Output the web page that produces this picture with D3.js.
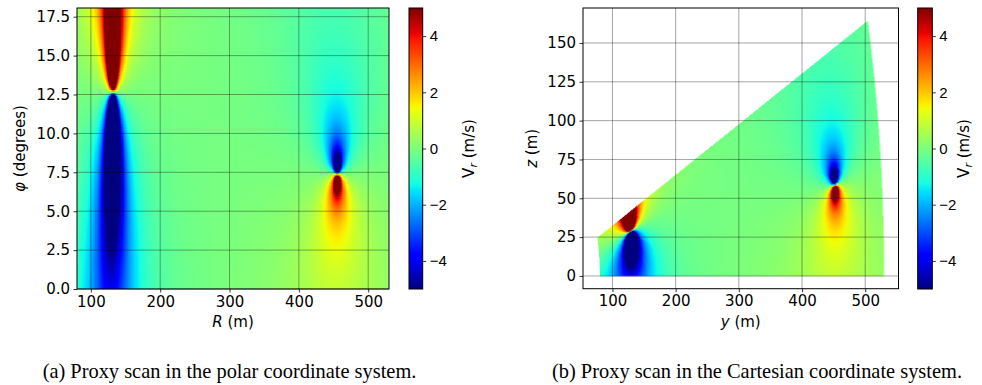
<!DOCTYPE html>
<html>
<head>
<meta charset="utf-8">
<script src="https://cdn.jsdelivr.net/npm/d3@7"></script>
<style>
  body { margin: 0; background: #fff; }
  svg { display: block; font-family: "DejaVu Sans", sans-serif; }
  .caption { font-family: "Liberation Serif", "Times New Roman", serif; }
</style>
</head>
<body>
<svg id="fig" width="982" height="385"></svg>
<script>
// scan geometry
const rangeLimits = [80, 530];      // R (m)
const elevLimits = [0, 18.06];      // phi (degrees)
const rangeStep = 1.5;
const elevStep = 0.1;

// the two vortices seen in the scan: centre (polar), circulation (m^2/s), core radius (m)
const vortexRange = [132, 455.5];
const vortexElev = [12.65, 7.4];
const vortexGamma = [-740, 335];
const vortexCore = [3, 3];

const colorLimits = [-5, 5];
const cbarTicks = [-4, -2, 0, 2, 4];
const polarXTicks = [100, 200, 300, 400, 500];
const polarYTicks = [0, 2.5, 5, 7.5, 10, 12.5, 15, 17.5];
const cartXTicks = [100, 200, 300, 400, 500];
const cartYTicks = [0, 25, 50, 75, 100, 125, 150];
const captions = [
  "(a) Proxy scan in the polar coordinate system.",
  "(b) Proxy scan in the Cartesian coordinate system."
];

const FS = 15;
const rad = Math.PI / 180;

// radial velocity seen by the scanner at (R, phi)
function radialVelocity(R, el) {
  const py = R * Math.cos(el * rad), pz = R * Math.sin(el * rad);
  let v = 0;
  for (let k = 0; k < vortexRange.length; k++) {
    const cy = vortexRange[k] * Math.cos(vortexElev[k] * rad);
    const cz = vortexRange[k] * Math.sin(vortexElev[k] * rad);
    const dy = py - cy, dz = pz - cz;
    const d2 = dy * dy + dz * dz;
    const f = vortexGamma[k] / (2 * Math.PI * d2) * (1 - Math.exp(-d2 / (vortexCore[k] * vortexCore[k])));
    v += f * (-dz * py + dy * pz) / R;
  }
  return v;
}

const gates = d3.range(rangeLimits[0], rangeLimits[1], rangeStep);
const elevs = d3.range(elevLimits[0], elevLimits[1], elevStep);
const field = elevs.map(e => gates.map(g => radialVelocity(g + rangeStep / 2, e + elevStep / 2)));

function cellValue(R, el) {
  if (R < rangeLimits[0] || R > rangeLimits[1] || el < elevLimits[0] || el > elevLimits[1]) return null;
  const i = Math.min(gates.length - 1, Math.floor((R - rangeLimits[0]) / rangeStep));
  const j = Math.min(elevs.length - 1, Math.floor((el - elevLimits[0]) / elevStep));
  return field[j][i];
}

// matplotlib "jet"
const norm = d3.scaleLinear().domain(colorLimits).range([0, 1]).clamp(true);
const jetR = d3.scaleLinear().domain([0, 0.35, 0.66, 0.89, 1]).range([0, 0, 1, 1, 0.5]).clamp(true);
const jetG = d3.scaleLinear().domain([0, 0.125, 0.375, 0.64, 0.91, 1]).range([0, 0, 1, 1, 0, 0]).clamp(true);
const jetB = d3.scaleLinear().domain([0, 0.11, 0.34, 0.65, 1]).range([0.5, 1, 1, 0, 0]).clamp(true);
function jet(v) {
  const t = norm(v);
  return [jetR(t) * 255, jetG(t) * 255, jetB(t) * 255];
}

const svg = d3.select("#fig");

function raster(g, w, h, lookup) {
  const k = 2;
  const canvas = document.createElement("canvas");
  canvas.width = Math.round(w * k);
  canvas.height = Math.round(h * k);
  const ctx = canvas.getContext("2d");
  const img = ctx.createImageData(canvas.width, canvas.height);
  for (let py = 0; py < canvas.height; py++) {
    for (let px = 0; px < canvas.width; px++) {
      const v = lookup((px + 0.5) / k, (py + 0.5) / k);
      if (v === null) continue;
      const c = jet(v), o = (py * canvas.width + px) * 4;
      img.data[o] = c[0]; img.data[o + 1] = c[1]; img.data[o + 2] = c[2]; img.data[o + 3] = 255;
    }
  }
  ctx.putImageData(img, 0, 0);
  g.append("image")
    .attr("width", w).attr("height", h)
    .attr("preserveAspectRatio", "none")
    .attr("href", canvas.toDataURL());
}

function grid(g, x, y, xt, yt, w, h) {
  const gg = g.append("g").attr("stroke", "#000").attr("stroke-opacity", 0.4).attr("stroke-width", 0.9);
  gg.selectAll(".gx").data(xt).enter().append("line")
    .attr("x1", d => x(d)).attr("x2", d => x(d)).attr("y1", 0).attr("y2", h);
  gg.selectAll(".gy").data(yt).enter().append("line")
    .attr("y1", d => y(d)).attr("y2", d => y(d)).attr("x1", 0).attr("x2", w);
}

function axes(g, x, y, xt, yt, yfmt, w, h) {
  const ax = g.append("g").attr("transform", `translate(0,${h})`)
    .call(d3.axisBottom(x).tickValues(xt).tickSize(3.5).tickPadding(3.5).tickFormat(d3.format("d")));
  const ay = g.append("g")
    .call(d3.axisLeft(y).tickValues(yt).tickSize(3.5).tickPadding(3.5).tickFormat(yfmt));
  [ax, ay].forEach(a => {
    a.select(".domain").remove();
    a.selectAll("text").attr("font-size", FS).attr("fill", "#000").attr("font-family", "DejaVu Sans");
    a.selectAll("line").attr("stroke", "#000").attr("stroke-width", 0.8);
  });
  g.append("rect").attr("width", w).attr("height", h)
    .attr("fill", "none").attr("stroke", "#000").attr("stroke-width", 1);
}

function colorbar(left, top, w, h, labelX) {
  const g = svg.append("g").attr("transform", `translate(${left},${top})`);
  const s = d3.scaleLinear().domain(colorLimits).range([h, 0]);
  raster(g, w, h, (px, py) => s.invert(py));
  const a = g.append("g").attr("transform", `translate(${w},0)`)
    .call(d3.axisRight(s).tickValues(cbarTicks).tickSize(3.5).tickPadding(3.5)
      .tickFormat(d => d < 0 ? "\u2212" + Math.abs(d) : d));
  a.select(".domain").remove();
  a.selectAll("text").attr("font-size", FS).attr("fill", "#000");
  a.selectAll("line").attr("stroke", "#000").attr("stroke-width", 0.8);
  g.append("rect").attr("width", w).attr("height", h)
    .attr("fill", "none").attr("stroke", "#000").attr("stroke-width", 1);
  const t = svg.append("text")
    .attr("transform", `translate(${labelX},${top + h / 2}) rotate(-90)`)
    .attr("text-anchor", "middle").attr("font-size", FS);
  t.append("tspan").text("V");
  t.append("tspan").attr("font-size", 11).attr("font-style", "italic").attr("dy", 3).text("r");
  t.append("tspan").attr("dy", -3).text(" (m/s)");
}

// ---- (a) polar ----
const A = { left: 77, top: 8, w: 312, h: 281 };
const xA = d3.scaleLinear().domain(rangeLimits).range([0, A.w]);
const yA = d3.scaleLinear().domain(elevLimits).range([A.h, 0]);
const gA = svg.append("g").attr("transform", `translate(${A.left},${A.top})`);
raster(gA, A.w, A.h, (px, py) => cellValue(xA.invert(px), yA.invert(py)));
grid(gA, xA, yA, polarXTicks, polarYTicks, A.w, A.h);
axes(gA, xA, yA, polarXTicks, polarYTicks, d3.format(".1f"), A.w, A.h);

svg.append("text").attr("x", A.left + A.w / 2).attr("y", 327).attr("text-anchor", "middle").attr("font-size", FS)
  .call(t => { t.append("tspan").attr("font-style", "italic").text("R"); t.append("tspan").text(" (m)"); });
svg.append("text").attr("transform", `translate(25,${A.top + A.h / 2}) rotate(-90)`)
  .attr("text-anchor", "middle").attr("font-size", FS)
  .call(t => { t.append("tspan").attr("font-style", "italic").text("\u03c6"); t.append("tspan").text(" (degrees)"); });
colorbar(409, 8, 13.7, 281, 474);

// ---- (b) Cartesian ----
const yMin = rangeLimits[0] * Math.cos(elevLimits[1] * rad), yMax = rangeLimits[1];
const zMax = rangeLimits[1] * Math.sin(elevLimits[1] * rad);
const padY = 0.05 * (yMax - yMin), padZ = 0.05 * zMax;
const B = { left: 583, top: 8, w: 315.5, h: 280.7 };
const xB = d3.scaleLinear().domain([yMin - padY, yMax + padY]).range([0, B.w]);
const yB = d3.scaleLinear().domain([-padZ, zMax + padZ]).range([B.h, 0]);
const gB = svg.append("g").attr("transform", `translate(${B.left},${B.top})`);
raster(gB, B.w, B.h, (px, py) => {
  const yy = xB.invert(px), zz = yB.invert(py);
  return cellValue(Math.hypot(yy, zz), Math.atan2(zz, yy) / rad);
});
grid(gB, xB, yB, cartXTicks, cartYTicks, B.w, B.h);
axes(gB, xB, yB, cartXTicks, cartYTicks, d3.format("d"), B.w, B.h);

svg.append("text").attr("x", B.left + B.w / 2).attr("y", 327).attr("text-anchor", "middle").attr("font-size", FS)
  .call(t => { t.append("tspan").attr("font-style", "italic").text("y"); t.append("tspan").text(" (m)"); });
svg.append("text").attr("transform", `translate(537,${B.top + B.h / 2}) rotate(-90)`)
  .attr("text-anchor", "middle").attr("font-size", FS)
  .call(t => { t.append("tspan").attr("font-style", "italic").text("z"); t.append("tspan").text(" (m)"); });
colorbar(917.7, 8, 14.6, 281, 969);

// captions
svg.selectAll(".caption").data(captions).enter().append("text")
  .attr("class", "caption")
  .attr("x", (d, i) => i === 0 ? 229.5 : 757)
  .attr("y", 378)
  .attr("text-anchor", "middle")
  .attr("font-size", 20.4)
  .text(d => d);
</script>
</body>
</html>
